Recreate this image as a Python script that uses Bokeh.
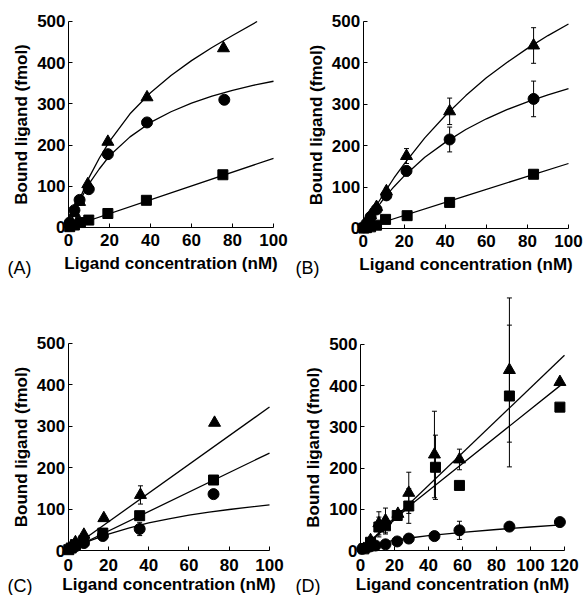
from bokeh.plotting import figure
from bokeh.layouts import row, column
from bokeh.models import ColumnDataSource, Whisker, TeeHead, Label, FixedTicker, Range1d
from bokeh.embed import file_html
from bokeh.resources import INLINE

FONT = "Liberation Sans"
Y_TICKS = [0, 100, 200, 300, 400, 500]
X_TICKS_100 = [0, 20, 40, 60, 80, 100]
X_TICKS_120 = [0, 20, 40, 60, 80, 100, 120]
X_LABEL = "Ligand concentration (nM)"
Y_LABEL = "Bound ligand (fmol)"

# ---------------- Panel A ----------------
A_tri_x = [0.6, 2.9, 5.4, 9.4, 19.2, 38.3, 75.6]
A_tri_y = [8, 35, 62, 105, 208, 316, 435]
A_cir_x = [0.6, 2.9, 5.4, 9.9, 19.2, 38.3, 76.0]
A_cir_y = [12, 42, 67, 93, 178, 255, 310]
A_sq_x = [0.6, 2.9, 5.8, 9.9, 19.2, 38.0, 75.3]
A_sq_y = [2, 6, 12, 18, 34, 66, 128]
A_tri_fit_x = [0, 5, 10, 15, 20, 30, 40, 50, 60, 70, 80, 92]
A_tri_fit = [0, 64, 121, 168, 209, 276, 327, 369, 405, 437, 466, 500]
A_fit_x = [0, 5, 10, 15, 20, 30, 40, 50, 60, 70, 80, 90, 100]
A_cir_fit = [0, 60, 106, 142, 174, 220, 255, 281, 302, 319, 333, 345, 355]
A_sq_fit_x = [0, 50, 100]
A_sq_fit = [0, 84, 168]

# ---------------- Panel B ----------------
B_x = [0.3, 1.6, 3.6, 6.5, 11.3, 21.1, 42.1, 83.0]
B_tri_y = [4, 16, 32, 52, 90, 175, 283, 442]
B_tri_err = [0, 0, 0, 0, 8, 18, 32, 43]
B_cir_y = [3, 12, 28, 46, 80, 139, 215, 313]
B_cir_err = [0, 0, 0, 0, 0, 12, 30, 43]
B_sq_x = [0.3, 1.6, 3.6, 6.5, 10.9, 21.4, 42.1, 83.0]
B_sq_y = [1, 2, 4, 8, 22, 31, 63, 131]
B_fit_x = [0, 5, 10, 15, 20, 30, 40, 50, 60, 70, 80, 90, 100]
B_tri_fit = [0, 44, 84, 122, 156, 219, 273, 321, 364, 401, 435, 466, 494]
B_cir_fit = [0, 38, 72, 101, 127, 172, 208, 239, 265, 287, 306, 323, 338]
B_sq_fit_x = [0, 50, 100]
B_sq_fit = [0, 79, 157]

# ---------------- Panel C ----------------
C_tri_x = [0.3, 1.5, 3.6, 7.8, 17.7, 35.9, 72.7]
C_tri_y = [4, 10, 20, 38, 78, 134, 308]
C_tri_err = [0, 0, 0, 0, 0, 22, 0]
C_sq_x = [0.3, 1.5, 3.6, 7.8, 17.2, 35.5, 72.2]
C_sq_y = [2, 6, 14, 24, 42, 84, 170]
C_cir_x = [1.5, 3.6, 7.8, 17.2, 35.5, 72.2]
C_cir_y = [6, 10, 18, 35, 52, 136]
C_cir_err = [0, 0, 0, 0, 16, 0]
C_tri_fit_x = [0, 100]
C_tri_fit = [0, 346]
C_sq_fit_x = [0, 100]
C_sq_fit = [0, 235]
C_cir_fit_x = [0, 5, 10, 15, 20, 30, 40, 50, 60, 70, 80, 90, 100]
C_cir_fit = [0, 11.6, 21.9, 31.1, 39.4, 54.1, 66.5, 76.5, 85.5, 92.8, 98.9, 104.7, 110]

# ---------------- Panel D ----------------
D_tri_x = [2, 5.9, 10.8, 14.7, 22, 28.4, 43.5, 58.2, 87.6, 117.3]
D_tri_y = [4, 25, 66, 73, 89, 140, 233, 221, 438, 409]
D_tri_err = [0, 0, 28, 30, 0, 50, 105, 25, 175, 0]
D_sq_x = [2, 5.9, 10.8, 14.7, 21.6, 28.4, 44.1, 58.2, 87.6, 117.3]
D_sq_y = [4, 20, 57, 60, 85, 108, 202, 158, 375, 348]
D_sq_err = [0, 0, 24, 20, 0, 42, 78, 0, 172, 0]
D_cir_x = [1, 5.9, 8.8, 14.7, 21.6, 28.4, 43.5, 58.2, 87.6, 117.3]
D_cir_y = [4, 10, 12, 15, 22, 29, 35, 49, 58, 69]
D_cir_err = [0, 0, 0, 0, 0, 0, 0, 22, 0, 0]
D_tri_fit_x = [0, 120]
D_tri_fit = [0, 474]
D_sq_fit_x = [0, 30, 118]
D_sq_fit = [0, 112, 402]
D_cir_fit_x = [0, 5, 10, 20, 30, 40, 60, 80, 100, 118]
D_cir_fit = [0, 9, 16, 25, 31, 36, 44, 51, 57, 62]

MARKER_SIZE = {"circle": 11, "square": 10, "triangle": 12}


def make_panel(width, height, xr, yr, xmax, xticks, series, fits,
               tag, tag_xy, tick_standoff, label_standoff):
    p = figure(width=width, height=height,
               x_range=Range1d(*xr), y_range=Range1d(*yr),
               output_backend="svg", toolbar_location=None, min_border=0)
    p.outline_line_color = None
    p.xgrid.visible = False
    p.ygrid.visible = False
    p.background_fill_color = "white"
    p.border_fill_color = "white"

    p.xaxis.fixed_location = 0
    p.yaxis.fixed_location = 0
    p.xaxis.bounds = (0, xmax)
    p.yaxis.bounds = (0, 500)
    p.xaxis.ticker = FixedTicker(ticks=xticks)
    p.yaxis.ticker = FixedTicker(ticks=Y_TICKS)
    p.xaxis.axis_label = X_LABEL
    p.yaxis.axis_label = Y_LABEL
    for ax in (p.xaxis, p.yaxis):
        ax.axis_line_color = "black"
        ax.axis_line_width = 1
        ax.major_tick_line_color = "black"
        ax.major_tick_in = 4
        ax.major_tick_out = 0
        ax.minor_tick_in = 0
        ax.minor_tick_out = 0
        ax.major_label_text_font = FONT
        ax.major_label_text_font_size = "17px"
        ax.major_label_text_font_style = "bold"
        ax.major_label_text_color = "black"
        ax.axis_label_text_font = FONT
        ax.axis_label_text_font_size = "17px"
        ax.axis_label_text_font_style = "bold"
        ax.axis_label_text_color = "black"
    p.xaxis.major_label_standoff = tick_standoff
    p.xaxis.axis_label_standoff = label_standoff
    p.yaxis.major_label_standoff = 3
    p.yaxis.axis_label_standoff = 3

    for fx, fy in fits:
        p.line(fx, fy, line_color="black", line_width=1.3)

    for xs, ys, errs, marker in series:
        if errs is not None:
            bx = [x for x, e in zip(xs, errs) if e > 0]
            lo = [y - e for y, e in zip(ys, errs) if e > 0]
            hi = [y + e for y, e in zip(ys, errs) if e > 0]
            src = ColumnDataSource(dict(base=bx, lower=lo, upper=hi))
            w = Whisker(source=src, base="base", lower="lower", upper="upper",
                        dimension="height", line_color="black", line_width=1,
                        upper_head=TeeHead(size=5, line_width=1, line_color="black"),
                        lower_head=TeeHead(size=5, line_width=1, line_color="black"))
            p.add_layout(w)
        p.scatter(xs, ys, marker=marker, size=MARKER_SIZE[marker],
                  fill_color="black", line_color="black")

    p.add_layout(Label(x=tag_xy[0], y=tag_xy[1], text=tag, text_font=FONT,
                       text_font_size="18px", text_color="black",
                       text_baseline="alphabetic", text_align="left"))
    return p


# Each figure's frame fills its whole canvas; the axes sit at x=0 and y=0.
pA = make_panel(290, 296, (-33.17, 108.29), (-167.48, 550.97), 100, X_TICKS_100,
                [(A_sq_x, A_sq_y, None, "square"),
                 (A_cir_x, A_cir_y, None, "circle"),
                 (A_tri_x, A_tri_y, None, "triangle")],
                [(A_tri_fit_x, A_tri_fit), (A_fit_x, A_cir_fit), (A_sq_fit_x, A_sq_fit)],
                "(A)", (-29.76, -99.5), 7, 4)

pB = make_panel(293, 296, (-35.41, 107.31), (-164.25, 550.7), 100, X_TICKS_100,
                [(B_sq_x, B_sq_y, None, "square"),
                 (B_x, B_cir_y, B_cir_err, "circle"),
                 (B_x, B_tri_y, B_tri_err, "triangle")],
                [(B_fit_x, B_tri_fit), (B_fit_x, B_cir_fit), (B_sq_fit_x, B_sq_fit)],
                "(B)", (-33.0, -96.6), 7, 4)

pC = make_panel(290, 299, (-33.63, 110.43), (-108.5, 612.6), 100, X_TICKS_100,
                [(C_sq_x, C_sq_y, None, "square"),
                 (C_cir_x, C_cir_y, C_cir_err, "circle"),
                 (C_tri_x, C_tri_y, C_tri_err, "triangle")],
                [(C_tri_fit_x, C_tri_fit), (C_sq_fit_x, C_sq_fit), (C_cir_fit_x, C_cir_fit)],
                "(C)", (-30.15, -84.4), 8, 1)

pD = make_panel(293, 299, (-41.18, 131.18), (-109.2, 616.5), 120, X_TICKS_120,
                [(D_sq_x, D_sq_y, D_sq_err, "square"),
                 (D_cir_x, D_cir_y, D_cir_err, "circle"),
                 (D_tri_x, D_tri_y, D_tri_err, "triangle")],
                [(D_tri_fit_x, D_tri_fit), (D_sq_fit_x, D_sq_fit), (D_cir_fit_x, D_cir_fit)],
                "(D)", (-38.2, -85.0), 8, 1)

layout = column(row(pA, pB), row(pC, pD))
open("out.html", "w").write(file_html(layout, INLINE))
